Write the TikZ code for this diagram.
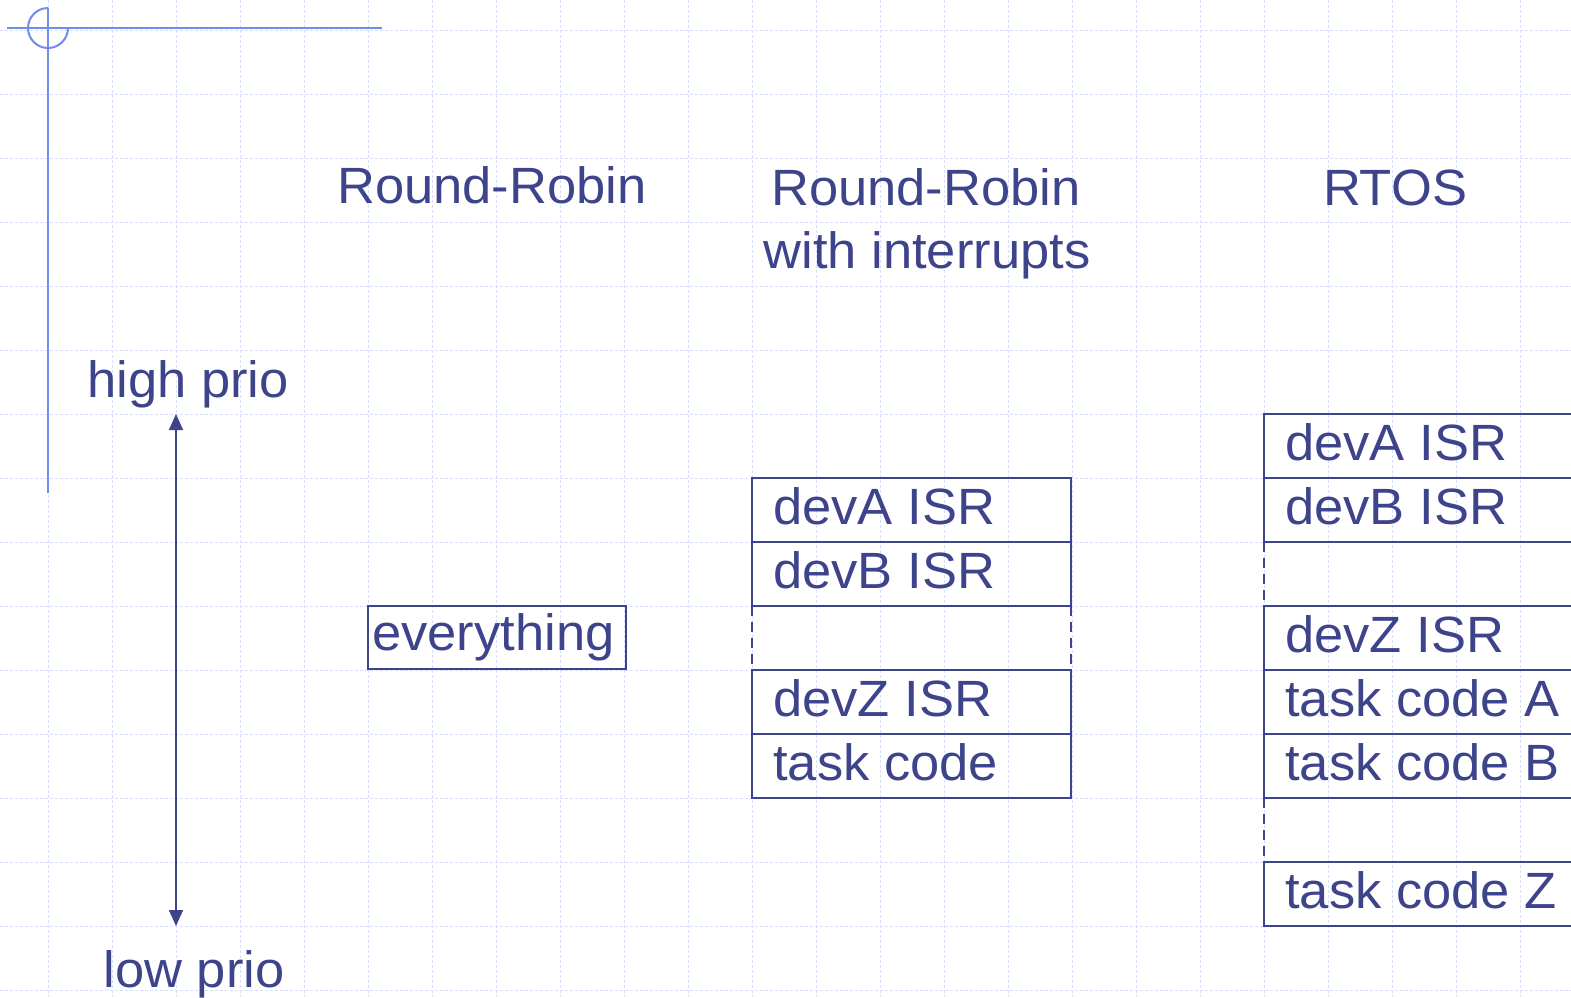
\documentclass[tikz,border=0pt]{standalone}
\usepackage{fontspec}
\setmainfont{Liberation Sans}[FakeStretch=1.03]
\usetikzlibrary{arrows.meta}
\definecolor{ink}{RGB}{62,68,140}
\definecolor{deco}{RGB}{112,140,238}
\definecolor{gridc}{RGB}{214,222,252}
\tikzset{
  gridline/.style={draw=gridc, line width=1pt, dash pattern=on 3pt off 2pt},
  decoline/.style={draw=deco, line width=2pt},
  boxline/.style={draw=ink, line width=2pt},
  gapline/.style={draw=ink, line width=2pt, dash pattern=on 10pt off 6pt},
  txt/.style={text=ink, inner sep=0pt, font=\fontsize{51}{63}\selectfont},
  title/.style={txt, anchor=base},
  boxtxt/.style={txt, anchor=base west},
}
\begin{document}
\begin{tikzpicture}[x=1pt,y=-1pt]
\clip (0,0) rectangle (1571,997);
\fill[white] (0,0) rectangle (1571,997);
% grid
\foreach \k in {0,...,24} \draw[gridline] (48+64*\k,0) -- (48+64*\k,997);
\foreach \k in {0,...,15} \draw[gridline] (0,30+64*\k) -- (1571,30+64*\k);
% corner decoration
\draw[decoline] (7,28) -- (382,28);
\draw[decoline] (48,8) -- (48,493);
\draw[decoline] (48,8) arc[start angle=90, end angle=360, radius=20pt];
% titles
\node[title] (rr) at (492,203) {Round-Robin};
\node[title] (rri1) at (926,205) {Round-Robin};
\node[title] (rri2) at (927,268) {with interrupts};
\node[title] (rtos) at (1395,205) {RTOS};
% priority axis
\node[title] (hi) at (188,397) {high prio};
\node[title] (lo) at (194,987) {low prio};
\coordinate (top) at (176,414);
\coordinate (bot) at (176,926);
\draw[draw=ink, line width=1.6pt, {Triangle[length=16pt,width=14pt]}-{Triangle[length=16pt,width=14pt]}, fill=ink] (top) -- (bot);
% Round-Robin
\draw[boxline] (368,606) rectangle (626,669);
\node[boxtxt] (ev) at (372,650) {everything};
% Round-Robin with interrupts
\draw[boxline] (752,478) rectangle (1071,606);
\draw[boxline] (752,542) -- (1071,542);
\draw[gapline] (752,606) -- (752,670);
\draw[gapline] (1071,606) -- (1071,670);
\draw[boxline] (752,670) rectangle (1071,798);
\draw[boxline] (752,734) -- (1071,734);
\node[boxtxt] (ia) at (773,524) {devA ISR};
\node[boxtxt] (ib) at (773,588) {devB ISR};
\node[boxtxt] (iz) at (773,716) {devZ ISR};
\node[boxtxt] (it) at (773,780) {task code};
% RTOS
\draw[boxline] (1600,414) -- (1264,414) -- (1264,542) -- (1600,542);
\draw[boxline] (1264,478) -- (1600,478);
\draw[gapline] (1264,542) -- (1264,606);
\draw[boxline] (1600,606) -- (1264,606) -- (1264,798) -- (1600,798);
\draw[boxline] (1264,670) -- (1600,670);
\draw[boxline] (1264,734) -- (1600,734);
\draw[gapline] (1264,798) -- (1264,862);
\draw[boxline] (1600,862) -- (1264,862) -- (1264,926) -- (1600,926);
\node[boxtxt] (ra) at (1285,460) {devA ISR};
\node[boxtxt] (rb) at (1285,524) {devB ISR};
\node[boxtxt] (rz) at (1285,652) {devZ ISR};
\node[boxtxt] (rta) at (1285,716) {task code A};
\node[boxtxt] (rtb) at (1285,780) {task code B};
\node[boxtxt] (rtz) at (1285,908) {task code Z};
\end{tikzpicture}
\end{document}
